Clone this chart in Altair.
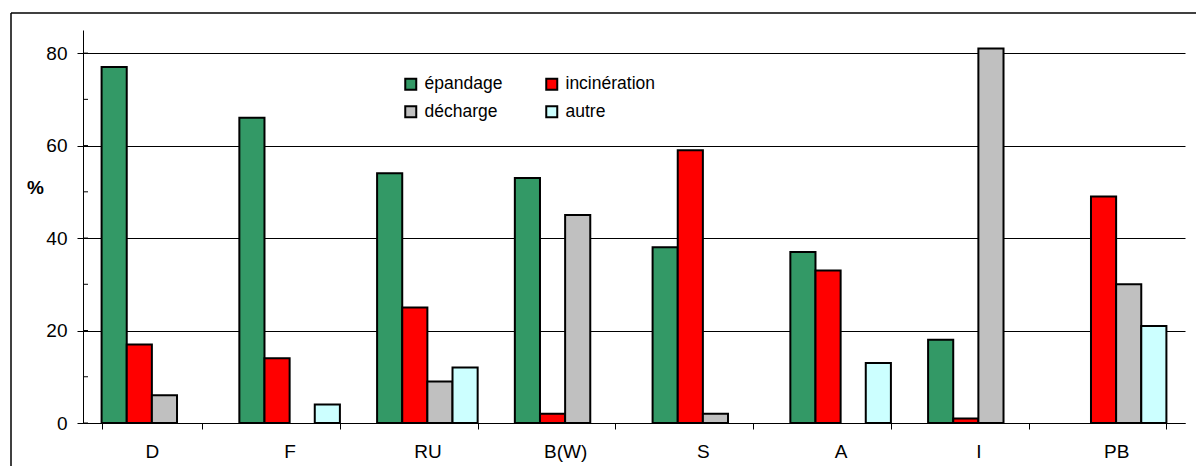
import altair as alt
import pandas as pd

# Sludge disposal routes by country (%)
countries = ["D", "F", "RU", "B(W)", "S", "A", "I", "PB"]
series = ["épandage", "incinération", "décharge", "autre"]
epandage = [77, 66, 54, 53, 38, 37, 18, 0]
incineration = [17, 14, 25, 2, 59, 33, 1, 49]
decharge = [6, 0, 9, 45, 2, 0, 81, 30]
autre = [0, 4, 12, 0, 0, 13, 0, 21]
colors = {"épandage": "#339966", "incinération": "#FF0000",
          "décharge": "#C0C0C0", "autre": "#CCFFFF"}
# legend fills column by column, so list it in that order
legend_order = ["épandage", "décharge", "incinération", "autre"]
y_ticks = [0, 10, 20, 30, 40, 50, 60, 70, 80]

rows = []
for name, vals in zip(series, [epandage, incineration, decharge, autre]):
    for c, v in zip(countries, vals):
        rows.append({"pays": c, "filière": name, "valeur": v})
df = pd.DataFrame(rows)

FONT = "Liberation Sans"

x_enc = alt.X(
    "pays:N",
    sort=countries,
    scale=alt.Scale(paddingInner=0.27, paddingOuter=0.135),
    axis=alt.Axis(
        title=None,
        labelAngle=0,
        labelFontSize=19,
        labelFont=FONT,
        labelColor="black",
        labelPadding=13,
        tickBand="extent",
        tickSize=6,
        tickColor="black",
        domainColor="black",
        grid=False,
    ),
)

y_scale = alt.Scale(domain=[0, 85], nice=False)
y_axis = alt.Axis(
    values=[0, 20, 40, 60, 80],
    title="%",
    titleAngle=0,
    titleFont=FONT,
    titleFontSize=19,
    titleFontWeight="bold",
    titleAlign="center",
    titleBaseline="middle",
    titleX=-48,
    titleY=157,
    labelFont=FONT,
    labelFontSize=19,
    labelColor="black",
    labelPadding=10,
    tickSize=6,
    tickColor="black",
    domainColor="black",
    grid=True,
    gridColor="black",
    gridWidth=1,
)

bars = (
    alt.Chart(df)
    .transform_filter(alt.datum["valeur"] > 0)
    .mark_bar(stroke="black", strokeWidth=2)
    .encode(
        x=x_enc,
        xOffset=alt.XOffset("filière:N", sort=series,
                            scale=alt.Scale(paddingInner=0, paddingOuter=0)),
        y=alt.Y("valeur:Q", scale=y_scale, axis=y_axis),
        fill=alt.Fill(
            "filière:N",
            scale=alt.Scale(domain=legend_order,
                            range=[colors[s] for s in legend_order]),
            legend=alt.Legend(
                title=None,
                orient="none",
                legendX=319,
                legendY=45,
                columns=2,
                columnPadding=39,
                rowPadding=8,
                symbolType="square",
                symbolSize=121,
                symbolStrokeColor="black",
                symbolStrokeWidth=2,
                symbolOpacity=1,
                labelFont=FONT,
                labelFontSize=17.5,
                labelColor="black",
                labelOffset=5,
            ),
        ),
    )
)

# Inner tick marks on the value axis
tick_df = pd.DataFrame({"t": y_ticks})
inner_ticks = (
    alt.Chart(tick_df)
    .mark_rule(color="black", strokeWidth=1)
    .encode(y=alt.Y("t:Q", scale=y_scale, axis=y_axis),
            x=alt.value(0), x2=alt.value(5))
)

# Frame around the chart (top and left edges)
frame_top = (
    alt.Chart(pd.DataFrame({"k": [0]}))
    .mark_rule(color="black", strokeWidth=1.5)
    .encode(x=alt.value(-72), x2=alt.value(1120), y=alt.value(-17))
)
frame_left = (
    alt.Chart(pd.DataFrame({"k": [0]}))
    .mark_rule(color="black", strokeWidth=1.5)
    .encode(x=alt.value(-72), y=alt.value(-17), y2=alt.value(440))
)

chart = (
    alt.layer(bars, inner_ticks, frame_top, frame_left)
    .properties(
        width=1102,
        height=393,
        autosize=alt.AutoSizeParams(type="none"),
        padding={"left": 83, "top": 30, "right": 11, "bottom": 43},
        background="white",
    )
    .configure_view(stroke=None)
)

chart.save("out.html", embed_options={"renderer": "svg", "actions": False})
